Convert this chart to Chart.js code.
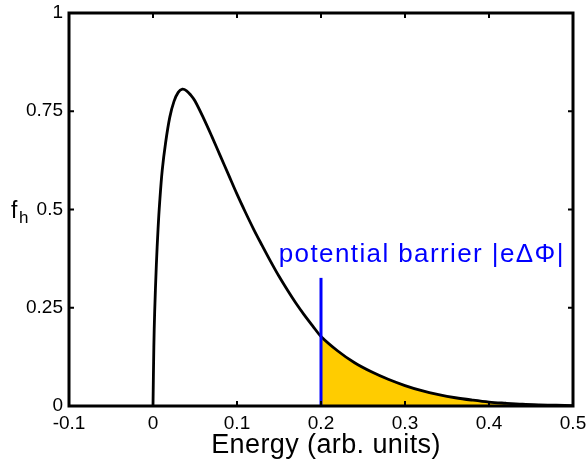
<!DOCTYPE html>
<html>
<head>
<meta charset="utf-8">
<script src="https://cdn.jsdelivr.net/npm/chart.js@4/dist/chart.umd.min.js"></script>
<style>
  html, body { margin: 0; padding: 0; background: #fff; }
  #wrap { width: 588px; height: 461px; position: relative; }
</style>
</head>
<body>
<div id="wrap"><canvas id="c"></canvas></div>
<script>
// Energy (arb. units) and distribution f_h
const energy = [0, 0.001, 0.002, 0.004, 0.006, 0.008, 0.011, 0.015, 0.02, 0.025, 0.03, 0.035, 0.04, 0.045, 0.05, 0.06, 0.07, 0.08, 0.09, 0.1, 0.11, 0.12, 0.13, 0.14, 0.15, 0.16, 0.17, 0.18, 0.19, 0.2, 0.22, 0.24, 0.26, 0.28, 0.3, 0.32, 0.34, 0.36, 0.38, 0.4, 0.42, 0.44, 0.46, 0.48, 0.5];
const fh     = [0, 0.15, 0.24, 0.36, 0.45, 0.52, 0.60, 0.67, 0.735, 0.775, 0.798, 0.806, 0.802, 0.791, 0.776, 0.733, 0.686, 0.637, 0.588, 0.539, 0.493, 0.449, 0.408, 0.368, 0.33, 0.295, 0.262, 0.232, 0.204, 0.177, 0.14, 0.11, 0.087, 0.068, 0.052, 0.039, 0.029, 0.021, 0.015, 0.010, 0.007, 0.0045, 0.003, 0.002, 0.001];
// potential barrier position and drawn marker height
const barrierEnergy = 0.2;
const barrierTop = 0.326;
const xTicks = [-0.1, 0, 0.1, 0.2, 0.3, 0.4, 0.5];
const yTicks = [0, 0.25, 0.5, 0.75, 1];
const barrierLabel = 'potential barrier |eΔΦ|';
const xTitle = 'Energy (arb. units)';

const curvePts = energy.map((e, i) => ({x: e, y: fh[i]}));
const tailPts = curvePts.filter(p => p.x >= barrierEnergy);
const barrierPts = [{x: barrierEnergy, y: 0}, {x: barrierEnergy, y: barrierTop}];

const FONT = '"Liberation Sans", Arial, sans-serif';

const decor = {
  id: 'decor',
  afterDraw(chart) {
    const {ctx, chartArea: a, scales: {x, y}} = chart;
    ctx.save();
    // inward ticks on all four sides
    ctx.strokeStyle = '#000';
    ctx.lineWidth = 2;
    ctx.beginPath();
    xTicks.forEach(v => {
      const px = x.getPixelForValue(v);
      ctx.moveTo(px, a.bottom); ctx.lineTo(px, a.bottom - 5);
      ctx.moveTo(px, a.top); ctx.lineTo(px, a.top + 5);
    });
    yTicks.forEach(v => {
      const py = y.getPixelForValue(v);
      ctx.moveTo(a.left, py); ctx.lineTo(a.left + 5, py);
      ctx.moveTo(a.right, py); ctx.lineTo(a.right - 5, py);
    });
    ctx.stroke();
    // axes box
    ctx.lineWidth = 3;
    ctx.strokeRect(a.left, a.top, a.right - a.left, a.bottom - a.top);
    // barrier annotation
    ctx.fillStyle = '#0000ff';
    ctx.font = '26px ' + FONT;
    ctx.textAlign = 'center';
    ctx.textBaseline = 'alphabetic';
    try { ctx.letterSpacing = '1.4px'; } catch (e) {}
    ctx.fillText(barrierLabel, x.getPixelForValue(0.32), y.getPixelForValue(0.366));
    // x axis title
    try { ctx.letterSpacing = '0.4px'; } catch (e) {}
    ctx.fillStyle = '#000';
    ctx.font = '27px ' + FONT;
    ctx.fillText(xTitle, 326, 453);
    try { ctx.letterSpacing = '0px'; } catch (e) {}
    // y axis label f_h
    ctx.textAlign = 'left';
    ctx.font = '23px ' + FONT;
    ctx.fillText('f', 11, 218);
    ctx.font = '17px ' + FONT;
    ctx.fillText('h', 19, 223);
    ctx.restore();
  }
};

new Chart(document.getElementById('c'), {
  type: 'line',
  data: {
    datasets: [
      { data: barrierPts, borderColor: '#0000ff', borderWidth: 3, pointRadius: 0, fill: false, order: 0, tension: 0 },
      { data: curvePts, borderColor: '#000', borderWidth: 2.8, pointRadius: 0, fill: false, order: 1, tension: 0.35 },
      { data: tailPts, borderColor: 'rgba(0,0,0,0)', borderWidth: 0, backgroundColor: '#ffcc00', pointRadius: 0, fill: 'origin', order: 2, tension: 0.35 }
    ]
  },
  options: {
    responsive: true,
    maintainAspectRatio: false,
    animation: false,
    events: [],
    layout: { padding: { left: 0, top: 13, right: 15, bottom: 0 } },
    plugins: { legend: { display: false }, tooltip: { enabled: false } },
    scales: {
      x: {
        type: 'linear', min: -0.1, max: 0.5,
        afterFit: s => { s.height = 55; s.paddingLeft = 0; s.paddingRight = 0; },
        afterBuildTicks: s => { s.ticks = xTicks.map(v => ({value: v})); },
        grid: { display: false, drawTicks: false },
        border: { display: false },
        ticks: { color: '#000', padding: 6, maxRotation: 0, font: { family: FONT, size: 19 },
                 callback: v => String(Number(v.toFixed(2))) }
      },
      y: {
        type: 'linear', min: 0, max: 1,
        afterFit: s => { s.width = 69; s.paddingTop = 0; s.paddingBottom = 0; },
        afterBuildTicks: s => { s.ticks = yTicks.map(v => ({value: v})); },
        grid: { display: false, drawTicks: false },
        border: { display: false },
        ticks: { color: '#000', padding: 6, font: { family: FONT, size: 19 },
                 callback: v => String(Number(v.toFixed(2))) }
      }
    }
  },
  plugins: [decor]
});
</script>
</body>
</html>
